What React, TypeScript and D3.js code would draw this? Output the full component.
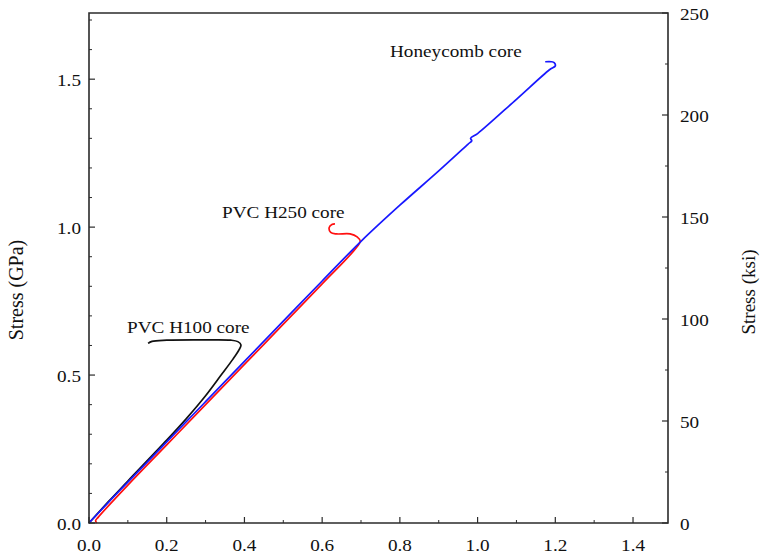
import React from "react";
import * as d3 from "d3";

// Strain (x) vs. stress in GPa (y) for each sandwich-core specimen
const honeycomb: [number, number][] = [
  [0, 0], [0.05, 0.07], [0.1, 0.138], [0.2, 0.274], [0.3, 0.41], [0.4, 0.546],
  [0.5, 0.682], [0.6, 0.818], [0.7, 0.952], [0.8, 1.074], [0.9, 1.19],
  [0.975, 1.28], [0.985, 1.292], [0.982, 1.3], [1.0, 1.316], [1.1, 1.432],
  [1.185, 1.532], [1.2, 1.545], [1.197, 1.556], [1.19, 1.559], [1.174, 1.559],
];
const pvcH250: [number, number][] = [
  [0.02, 0], [0.017, 0.008], [0.024, 0.02], [0.1, 0.128], [0.2, 0.264], [0.3, 0.4],
  [0.4, 0.536], [0.5, 0.672], [0.6, 0.808], [0.68, 0.918], [0.698, 0.952],
  [0.69, 0.967], [0.672, 0.977], [0.637, 0.977], [0.622, 0.982], [0.618, 0.998],
  [0.625, 1.009], [0.633, 1.011],
];
const pvcH100: [number, number][] = [
  [0, 0], [0.05, 0.072], [0.1, 0.142], [0.2, 0.28], [0.25, 0.352], [0.3, 0.43],
  [0.34, 0.5], [0.37, 0.553], [0.386, 0.585], [0.391, 0.602], [0.383, 0.613],
  [0.365, 0.618], [0.3, 0.619], [0.2, 0.618], [0.162, 0.614], [0.152, 0.607],
];

const xTicks = [0, 0.2, 0.4, 0.6, 0.8, 1.0, 1.2, 1.4];
const xMinor = [0.1, 0.3, 0.5, 0.7, 0.9, 1.1, 1.3];
const gpaTicks = [0, 0.5, 1.0, 1.5];
const gpaMinor = [0.1, 0.2, 0.3, 0.4, 0.6, 0.7, 0.8, 0.9, 1.1, 1.2, 1.3, 1.4, 1.6, 1.7];
const ksiTicks = [0, 50, 100, 150, 200, 250];
const ksiMinor = [25, 75, 125, 175, 225];

const KSI_PER_GPA = 145.038;

const W = 761;
const H = 555;
const left = 89;
const right = 668;
const top = 13;
const bottom = 523;

const FONT = "'Liberation Serif', 'Times New Roman', serif";
const STRETCH = 1.13;
const AXIS = "#2b2b2b";

function Label({ x, y, anchor = "start", size = 17, children }: {
  x: number; y: number; anchor?: string; size?: number; children: React.ReactNode;
}) {
  return (
    <text
      transform={`translate(${x},${y}) scale(${STRETCH},1)`}
      textAnchor={anchor}
      fontFamily={FONT}
      fontSize={size}
      fill="#111"
    >
      {children}
    </text>
  );
}

export default function App() {
  const x = d3.scaleLinear().domain([0, 1.49]).range([left, right]);
  const yG = d3.scaleLinear().domain([0, 250 / KSI_PER_GPA]).range([bottom, top]);
  const yK = d3.scaleLinear().domain([0, 250]).range([bottom, top]);

  const line = d3
    .line<[number, number]>()
    .x((d) => x(d[0]))
    .y((d) => yG(d[1]))
    .curve(d3.curveCatmullRom.alpha(0.5));

  const fmt = d3.format(".1f");

  return (
    <svg
      width={W}
      height={H}
      style={{ position: "absolute", left: 0, top: 0, background: "#fff" }}
    >
      {/* data curves */}
      <path d={line(pvcH250) ?? ""} fill="none" stroke="#ff1010" strokeWidth={1.7} strokeLinejoin="round" />
      <path d={line(pvcH100) ?? ""} fill="none" stroke="#111" strokeWidth={1.7} strokeLinejoin="round" />
      <path d={line(honeycomb) ?? ""} fill="none" stroke="#1818ff" strokeWidth={1.7} strokeLinejoin="round" />

      {/* frame */}
      <path
        d={`M${left},${bottom}V${top}H${right}V${bottom}Z`}
        fill="none"
        stroke={AXIS}
        strokeWidth={1.6}
      />

      {/* bottom axis ticks (inward) */}
      {xTicks.map((t) => (
        <line key={`xt${t}`} x1={x(t)} x2={x(t)} y1={bottom} y2={bottom - 6} stroke={AXIS} strokeWidth={1.2} />
      ))}
      {xMinor.map((t) => (
        <line key={`xm${t}`} x1={x(t)} x2={x(t)} y1={bottom} y2={bottom - 3} stroke={AXIS} strokeWidth={1} />
      ))}
      {xTicks.map((t) => (
        <Label key={`xl${t}`} x={x(t)} y={551} anchor="middle">{fmt(t)}</Label>
      ))}

      {/* left axis (GPa) */}
      {gpaTicks.map((t) => (
        <line key={`gt${t}`} x1={left} x2={left + 6} y1={yG(t)} y2={yG(t)} stroke={AXIS} strokeWidth={1.2} />
      ))}
      {gpaMinor.map((t) => (
        <line key={`gm${t}`} x1={left} x2={left + 3} y1={yG(t)} y2={yG(t)} stroke={AXIS} strokeWidth={1} />
      ))}
      {gpaTicks.map((t) => (
        <Label key={`gl${t}`} x={81} y={yG(t) + 7} anchor="end">{fmt(t)}</Label>
      ))}

      {/* right axis (ksi) */}
      {ksiTicks.map((t) => (
        <line key={`kt${t}`} x1={right} x2={right - 6} y1={yK(t)} y2={yK(t)} stroke={AXIS} strokeWidth={1.2} />
      ))}
      {ksiMinor.map((t) => (
        <line key={`km${t}`} x1={right} x2={right - 3} y1={yK(t)} y2={yK(t)} stroke={AXIS} strokeWidth={1} />
      ))}
      {ksiTicks.map((t) => (
        <Label key={`kl${t}`} x={680} y={yK(t) + 7} anchor="start">{t}</Label>
      ))}

      {/* axis titles */}
      <text
        transform="translate(23,290) rotate(-90)"
        textAnchor="middle"
        fontFamily={FONT}
        fontSize={20}
        fill="#111"
      >
        Stress (GPa)
      </text>
      <text
        transform="translate(755,292) rotate(-90)"
        textAnchor="middle"
        fontFamily={FONT}
        fontSize={19}
        fill="#111"
      >
        Stress (ksi)
      </text>

      {/* curve annotations */}
      <Label x={390} y={57}>Honeycomb core</Label>
      <Label x={222} y={218}>PVC H250 core</Label>
      <Label x={127} y={333}>PVC H100 core</Label>
    </svg>
  );
}
